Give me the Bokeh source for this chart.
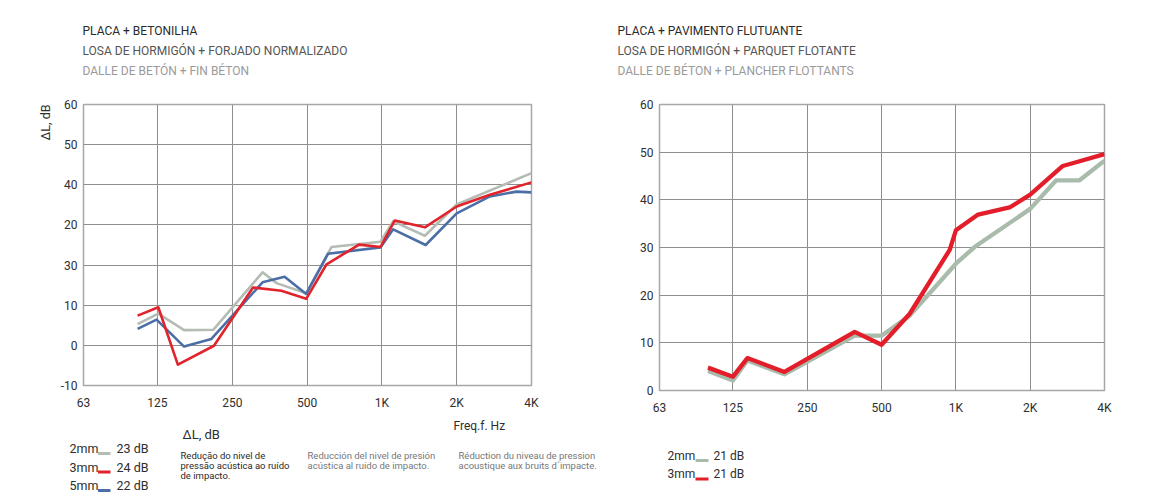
from bokeh.plotting import figure
from bokeh.models import FixedTicker, Range1d, Title
from bokeh.layouts import row, column
from bokeh.core.properties import value
from bokeh.embed import file_html
from bokeh.resources import INLINE

FONT = "Roboto"

# ---------------- data ----------------
freq_ticks = [63, 125, 250, 500, 1000, 2000, 4000]
freq_tick_labels = ["63", "125", "250", "500", "1K", "2K", "4K"]

left_titles = ["PLACA + BETONILHA",
               "LOSA DE HORMIGÓN + FORJADO NORMALIZADO",
               "DALLE DE BETÓN + FIN BÉTON"]
right_titles = ["PLACA + PAVIMENTO FLUTUANTE",
                "LOSA DE HORMIGÓN + PARQUET FLOTANTE",
                "DALLE DE BÉTON + PLANCHER FLOTTANTS"]
title_colors = ["#2a2a2a", "#555555", "#9a9a9a"]

left_y_ticks = [-10, 0, 10, 20, 30, 40, 50, 60]
left_y_tick_labels = ["-10", "0", "10", "30", "20", "40", "50", "60"]
right_y_ticks = [0, 10, 20, 30, 40, 50, 60]
right_y_tick_labels = ["0", "10", "20", "30", "40", "50", "60"]

# left chart: 2mm (gray), 3mm (red), 5mm (blue)
l_gray_f = [104, 126, 160, 210, 331, 377, 496, 627, 987, 1110, 1490, 2000, 4000]
l_gray_v = [5.3, 7.9, 3.8, 3.9, 18.2, 15.5, 13.0, 24.5, 25.8, 30.9, 27.3, 35.1, 42.9]
l_red_f = [104, 126, 151, 211, 303, 394, 496, 599, 810, 987, 1126, 1490, 2000, 2720, 4000]
l_red_v = [7.4, 9.5, -4.8, -0.1, 14.4, 13.6, 11.6, 20.2, 25.1, 24.5, 31.1, 29.4, 34.6, 37.5, 40.6]
l_blue_f = [104, 124, 160, 206, 331, 406, 496, 607, 987, 1110, 1500, 2000, 2720, 3480, 4000]
l_blue_v = [4.1, 6.4, -0.3, 1.6, 15.7, 17.1, 12.8, 22.8, 24.4, 28.9, 25.0, 32.9, 37.1, 38.3, 38.1]

# right chart: 2mm (gray), 3mm (red)
r_gray_f = [99, 125, 143, 202, 389, 500, 650, 1000, 1190, 2000, 2550, 3170, 4000]
r_gray_v = [4.1, 2.1, 6.3, 3.4, 11.5, 11.5, 15.7, 26.6, 30.1, 38.1, 44.1, 44.1, 48.2]
r_red_f = [99, 125, 143, 202, 389, 500, 650, 944, 1000, 1230, 1650, 2000, 2710, 3170, 4000]
r_red_v = [4.8, 2.9, 6.8, 3.9, 12.3, 9.6, 16.1, 29.5, 33.6, 36.9, 38.4, 41.1, 47.1, 48.1, 49.6]

left_legend_names = ["2mm", "3mm", "5mm"]
left_legend_values = ["23 dB", "24 dB", "22 dB"]
right_legend_names = ["2mm", "3mm"]
right_legend_values = ["21 dB", "21 dB"]

notes = [
    (["Redução do nivel de", "pressão acústica ao ruído", "de impacto."], "#2a2a2a"),
    (["Reducción del nivel de presión", "acústica al ruido de impacto."], "#777777"),
    (["Réduction du niveau de pression", "acoustique aux bruits d´impacte."], "#777777"),
]

L_GRAY, L_RED, L_BLUE = "#b4bcb4", "#e1232b", "#4a6ea5"
R_GRAY, R_RED = "#a9bbab", "#e31e2a"

LEFT_W, RIGHT_W = 592, 572
HEAD_H, FOOT_H = 96, 84
FOOT_TOP = 416


def text_fig(w, h):
    """A blank canvas whose data coordinates equal its pixels (y downwards)."""
    p = figure(width=w, height=h, x_range=Range1d(0, w), y_range=Range1d(h, 0),
               min_border_left=0, min_border_right=0, min_border_top=0, min_border_bottom=0,
               x_axis_location=None, y_axis_location=None,
               output_backend="svg", toolbar_location=None,
               background_fill_color="white", border_fill_color="white")
    p.outline_line_color = None
    p.grid.visible = False
    return p


def put(p, x, y, text, size, color, align="left"):
    p.text(x=[x], y=[y], text=[text], text_font=value(FONT), text_font_size=value(f"{size}px"),
           text_color=color, text_align=align, text_baseline="middle")


def make_chart(bl, bt, fw, fh, bb, br, y_lo, y_hi, y_ticks, y_labels, x_standoff, y_baseline):
    p = figure(x_axis_type="log", x_range=Range1d(63, 4000), y_range=Range1d(y_lo, y_hi),
               frame_width=fw, frame_height=fh, min_border_left=bl, min_border_top=bt,
               min_border_bottom=bb, min_border_right=br,
               output_backend="svg", toolbar_location=None,
               background_fill_color="white", border_fill_color="white")
    p.xaxis.ticker = FixedTicker(ticks=freq_ticks)
    p.xaxis.major_label_overrides = dict(zip(freq_ticks, freq_tick_labels))
    p.yaxis.ticker = FixedTicker(ticks=y_ticks)
    p.yaxis.major_label_overrides = dict(zip(y_ticks, y_labels))
    for ax in (p.xaxis, p.yaxis):
        ax.axis_line_color = None
        ax.major_tick_line_color = None
        ax.minor_tick_line_color = None
        ax.major_tick_out = 0
        ax.major_tick_in = 0
        ax.major_label_text_font = FONT
        ax.major_label_text_font_size = "12px"
        ax.major_label_text_color = "#2e2e2e"
    p.xaxis.major_label_standoff = x_standoff
    p.yaxis.major_label_standoff = 6
    p.yaxis.major_label_text_baseline = y_baseline
    p.xgrid.grid_line_color = "#8e8e8e"
    p.ygrid.grid_line_color = "#8e8e8e"
    p.outline_line_color = "#a6a6a6"
    p.outline_line_width = 1.5
    return p


# ---------------- headers ----------------
h1 = text_fig(LEFT_W, HEAD_H)
for i, t in enumerate(left_titles):
    put(h1, 82, 30 + 20 * i, t, 12, title_colors[i])
h2 = text_fig(RIGHT_W, HEAD_H)
for i, t in enumerate(right_titles):
    put(h2, 617 - LEFT_W, 30 + 20 * i, t, 12, title_colors[i])

# ---------------- left chart ----------------
p1 = make_chart(83, 8, 448, 281, 27, 61, -10, 60, left_y_ticks, left_y_tick_labels, 10, "alphabetic")
p1.add_layout(Title(text="ΔL, dB", align="right", text_font=FONT, text_font_size="12.5px",
                    text_font_style="normal", text_color="#2e2e2e"), "left")
p1.line(l_gray_f, l_gray_v, line_color=L_GRAY, line_width=2.6, line_join="round")
p1.line(l_blue_f, l_blue_v, line_color=L_BLUE, line_width=2.6, line_join="round")
p1.line(l_red_f, l_red_v, line_color=L_RED, line_width=2.6, line_join="round")

# ---------------- right chart ----------------
p2 = make_chart(67, 8, 445, 286, 26, 60, 0, 60, right_y_ticks, right_y_tick_labels, 10, "bottom")
p2.line(r_gray_f, r_gray_v, line_color=R_GRAY, line_width=4.3, line_join="round")
p2.line(r_red_f, r_red_v, line_color=R_RED, line_width=4.3, line_join="round")

# ---------------- footer (spans both charts) ----------------
f = text_fig(LEFT_W + RIGHT_W, FOOT_H)
put(f, 453, 424 - FOOT_TOP, "Freq.f. Hz", 12, "#2e2e2e")
put(f, 182, 433 - FOOT_TOP, "ΔL, dB", 13, "#2e2e2e")
l_sw_colors = [L_GRAY, L_RED, L_BLUE]
for i, (n, v) in enumerate(zip(left_legend_names, left_legend_values)):
    yc = 447 + 18.5 * i - FOOT_TOP
    put(f, 69, yc, n, 12.5, "#2e2e2e")
    f.quad(left=[97.5], right=[110], top=[yc + 3.5], bottom=[yc + 6.5],
           fill_color=l_sw_colors[i], line_color=None)
    put(f, 116, yc, v, 12.5, "#2e2e2e")
for (lines, col), x0 in zip(notes, [180, 307, 458]):
    for j, ln in enumerate(lines):
        put(f, x0, 454 + 10 * j - FOOT_TOP, ln, 9.5, col)

r_sw_colors = [R_GRAY, R_RED]
for i, (n, v) in enumerate(zip(right_legend_names, right_legend_values)):
    yc = 454 + 18.5 * i - FOOT_TOP
    put(f, 667, yc, n, 12, "#2e2e2e")
    f.quad(left=[695], right=[708], top=[yc + 3.5], bottom=[yc + 6.5],
           fill_color=r_sw_colors[i], line_color=None)
    put(f, 713, yc, v, 12, "#2e2e2e")

layout = column(row(h1, h2), row(p1, p2), f)
open("out.html", "w").write(file_html(layout, INLINE))
